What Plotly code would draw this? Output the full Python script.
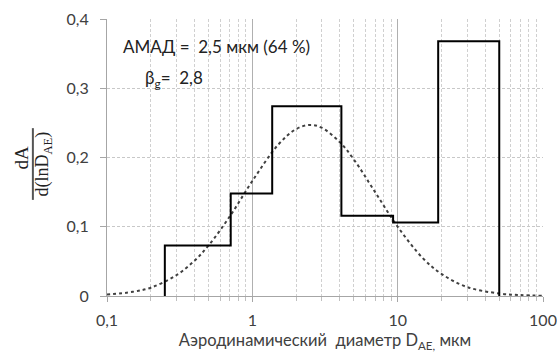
import plotly.graph_objects as go

# Histogram bin edges (µm) and heights dA/d(lnD)
bin_edges = [0.25, 0.71, 1.37, 4.1, 9.3, 19.0, 50.0]
bin_heights = [0.073, 0.148, 0.274, 0.116, 0.106, 0.368]

# Dotted fitted curve
curve_d = [0.1, 0.15, 0.2, 0.3, 0.4, 0.5, 0.7, 1, 1.5, 2, 2.5, 3, 4, 5, 7, 10, 15, 20, 30, 50, 70, 100]
curve_y = [0.002, 0.006, 0.012, 0.030, 0.051, 0.073, 0.115, 0.166, 0.218, 0.241, 0.247, 0.243,
           0.222, 0.197, 0.150, 0.100, 0.054, 0.032, 0.013, 0.0036, 0.0013, 0.0004]

x_tickvals = [0.1, 1, 10, 100]
x_ticktext = ["0,1", "1", "10", "100"]
y_tickvals = [0, 0.1, 0.2, 0.3, 0.4]
y_ticktext = ["0", "0,1", "0,2", "0,3", "0,4"]
minor_vals = [m * d for d in (0.1, 1, 10) for m in range(2, 10)]

# step outline
step_x = [bin_edges[0]] + bin_edges
step_y = [0] + bin_heights + [0]

FONT = "Lato"
TXT = "#404040"
DASH = "3px,2px"

fig = go.Figure()
fig.add_trace(go.Scatter(x=curve_d, y=curve_y, mode="lines",
                         line=dict(color="#404040", width=2, dash="dot", shape="spline"),
                         hoverinfo="skip", showlegend=False))
fig.add_trace(go.Scatter(x=step_x, y=step_y, mode="lines",
                         line=dict(color="black", width=2, shape="hv"),
                         showlegend=False))

fig.update_layout(
    width=557, height=354,
    margin=dict(l=107, r=14, t=19, b=58, autoexpand=False),
    paper_bgcolor="white", plot_bgcolor="white",
    font=dict(family=FONT, size=16, color=TXT),
    xaxis=dict(type="log", range=[-1, 2], tickvals=x_tickvals, ticktext=x_ticktext,
               showgrid=True, gridcolor="#b0b0b0", gridwidth=1, zeroline=False,
               showline=True, linecolor="#a6a6a6", linewidth=1,
               ticks="outside", ticklen=5, tickcolor="#a6a6a6",
               ticklabelstandoff=5, automargin=False,
               minor=dict(tickvals=minor_vals, showgrid=True, gridcolor="#d0d0d0",
                          griddash=DASH, gridwidth=1,
                          ticks="outside", ticklen=4, tickcolor="#c0c0c0"),
               title=dict(text="Аэродинамический  диаметр D<sub>AE,</sub> мкм",
                          font=dict(size=16.5, color=TXT), standoff=6)),
    yaxis=dict(range=[0, 0.4], tickvals=y_tickvals, ticktext=y_ticktext,
               showgrid=True, gridcolor="#c8c8c8", griddash=DASH, gridwidth=1,
               zeroline=False, showline=True, linecolor="#a6a6a6", linewidth=1,
               ticks="outside", ticklen=6, tickcolor="#a6a6a6", ticklabelstandoff=8,
               automargin=False),
    annotations=[
        dict(text="АМАД =  2,5 мкм (64 %)", x=0.032, y=0.899, xref="paper", yref="paper",
             xanchor="left", yanchor="middle", showarrow=False,
             font=dict(family=FONT, size=17, color="#222222")),
        dict(text="β<sub>g</sub>=  2,8", x=0.0826, y=0.783, xref="paper", yref="paper",
             xanchor="left", yanchor="middle", showarrow=False,
             font=dict(family=FONT, size=17, color="#222222")),
        dict(text="dA", x=-0.195, y=0.50, xref="paper", yref="paper", textangle=-90,
             xanchor="center", yanchor="middle", showarrow=False,
             font=dict(family="Liberation Serif", size=19, color="#222222")),
        dict(text="d(lnD<sub>AE</sub>)", x=-0.146, y=0.476, xref="paper", yref="paper",
             textangle=-90, xanchor="center", yanchor="middle", showarrow=False,
             font=dict(family="Liberation Serif", size=18, color="#222222")),
    ],
    shapes=[dict(type="line", xref="paper", yref="paper", x0=-0.170, x1=-0.170,
                 y0=0.347, y1=0.606, line=dict(color="#555555", width=2))],
)

fig.write_html("out.html", config={"displayModeBar": False},
               post_script="document.body.style.margin='0';document.body.style.overflow='hidden';")
